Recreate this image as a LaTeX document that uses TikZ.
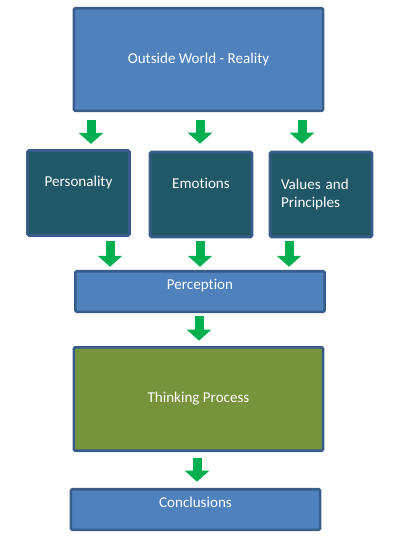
\documentclass[tikz,border=0pt]{standalone}
\usepackage{fontspec}
\setmainfont{Carlito}[Ligatures=NoCommon]
\usetikzlibrary{arrows.meta}
\definecolor{boxblue}{HTML}{4F81BD}
\definecolor{edgeblue}{HTML}{385D8A}
\definecolor{darkteal}{HTML}{215868}
\definecolor{thinkgreen}{HTML}{77933C}
\definecolor{arrowgreen}{HTML}{00B050}
\begin{document}
\begin{tikzpicture}[x=0.75pt, y=-0.75pt,
  every node/.style={rectangle, draw=edgeblue, line width=1.9pt, rounded corners=1pt,
    text=white, font=\fontsize{11.3pt}{13.5pt}\selectfont},
  wide/.style={fill=boxblue, minimum width=187pt},
  factor/.style={fill=darkteal, minimum width=76.5pt, minimum height=63.75pt},
  toptext/.style={text height=8pt, text depth=17.5pt},
  lowtext/.style={text height=8pt, text depth=11.5pt},
  flow/.style={draw=arrowgreen, line width=6.75pt, -{Triangle[width=18pt, length=8.25pt]}}]
  \useasboundingbox (0,0) rectangle (401,539);
  % boxes
  \node[wide, minimum height=76.9pt] (world) at (198.5,59.5) {Outside World - Reality};
  \node[factor, toptext] (pers) at (78.5,193) {Personality};
  \node[factor, toptext] (emo) at (201,194.5) {Emotions};
  \node[factor, text width=60pt, align=left] (vals) at (321,194.5) {Values and\\Principles};
  \node[wide, lowtext, minimum height=30.4pt] (perc) at (200,291.5) {Perception};
  \node[wide, fill=thinkgreen, minimum height=77.6pt] (think) at (198.5,399) {Thinking Process};
  \node[wide, lowtext, minimum height=30.4pt] (concl) at (195.5,509.5) {Conclusions};
  % arrow columns
  \coordinate (a1) at (91,0);
  \coordinate (a2) at (200,0);
  \coordinate (a3) at (302,0);
  \coordinate (b1) at (110,0);
  \coordinate (b2) at (200,0);
  \coordinate (b3) at (289,0);
  \coordinate (c1) at (199,0);
  \coordinate (d1) at (197,0);
  % arrows
  \draw[flow, shorten <=6pt, shorten >=4pt] (world.south -| a1) -- (pers.north -| a1);
  \draw[flow, shorten <=6pt, shorten >=5.25pt] (world.south -| a2) -- (emo.north -| a2);
  \draw[flow, shorten <=6pt, shorten >=5.25pt] (world.south -| a3) -- (vals.north -| a3);
  \draw[flow, shorten <=3.2pt, shorten >=2.4pt] (pers.south -| b1) -- (perc.north -| b1);
  \draw[flow, shorten <=2.4pt, shorten >=2.4pt] (emo.south -| b2) -- (perc.north -| b2);
  \draw[flow, shorten <=2.4pt, shorten >=2.4pt] (vals.south -| b3) -- (perc.north -| b3);
  \draw[flow, shorten <=2.4pt, shorten >=4pt] (perc.south -| c1) -- (think.north -| c1);
  \draw[flow, shorten <=4.7pt, shorten >=4.7pt] (think.south -| d1) -- (concl.north -| d1);
\end{tikzpicture}
\end{document}
